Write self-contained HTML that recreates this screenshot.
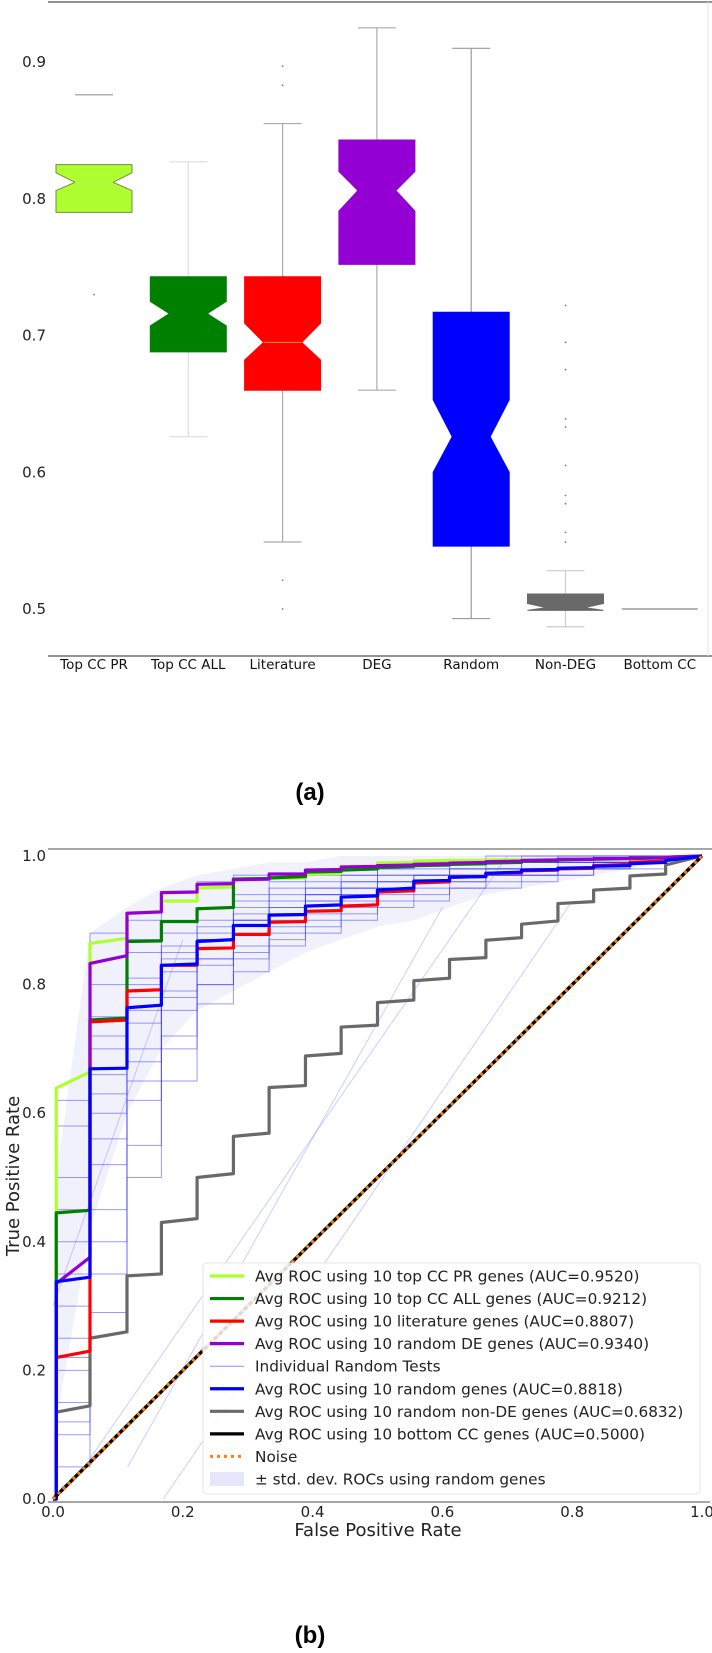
<!DOCTYPE html>
<html><head><meta charset="utf-8">
<style>
html,body{margin:0;padding:0;background:#fff;}
svg{display:block;font-family:"DejaVu Sans","Liberation Sans",sans-serif;}
</style></head>
<body>
<svg id="fig" width="712" height="1653" viewBox="0 0 712 1653" xmlns="http://www.w3.org/2000/svg">
  <g id="boxchart"></g>
  <text x="310" y="800" text-anchor="middle" font-family="Liberation Sans, sans-serif" font-weight="bold" font-size="24">(a)</text>
  <g id="roc"></g>
  <text x="310" y="1643" text-anchor="middle" font-family="Liberation Sans, sans-serif" font-weight="bold" font-size="24">(b)</text>
</svg>
<script>
// ---------- Box plot data ----------
const boxCategories = ["Top CC PR","Top CC ALL","Literature","DEG","Random","Non-DEG","Bottom CC"];
const boxQ1 = [0.790,0.688,0.660,0.752,0.546,0.499,0.500];
const boxQ3 = [0.825,0.743,0.743,0.843,0.717,0.511,0.500];
const boxMedian = [0.812,0.716,0.695,0.806,0.626,0.501,0.500];
const boxNotchLo = [0.806,0.707,0.682,0.791,0.600,0.499,0.500];
const boxNotchHi = [0.819,0.725,0.709,0.820,0.653,0.504,0.500];
const boxWhiskerLo = [0.790,0.626,0.549,0.660,0.493,0.487,0.500];
const boxWhiskerHi = [0.876,0.827,0.855,0.925,0.910,0.528,0.500];
const boxFliers = [[0.73],[],[0.897,0.883,0.521,0.5],[],[],[0.722,0.695,0.675,0.639,0.633,0.605,0.583,0.577,0.556,0.549],[]];
const boxTicks = [0.5,0.6,0.7,0.8,0.9];
const boxColors = ["#adff2f","#008000","#ff0000","#9400d3","#0000ff","#696969","#888888"];
const whiskerColors = ["#ffffff","#dddddd","#aaaaaa","#aaaaaa","#999999","#cccccc","#888888"];

// ---------- ROC data ----------
const gridFpr = [0.005,0.057,0.114,0.167,0.222,0.278,0.333,0.389,0.444,0.5,0.556,0.611,0.667,0.722,0.778,0.833,0.889,0.944];
const prBefore = [0,0.664,0.872,0.914,0.93,0.952,0.965,0.966,0.973,0.981,0.99,0.993,0.993,0.994,0.994,0.995,0.996,0.997];
const prAfter  = [0.639,0.864,0.911,0.93,0.95,0.964,0.965,0.972,0.98,0.989,0.992,0.993,0.994,0.994,0.995,0.996,0.997,0.998];
const allBefore = [0,0.449,0.748,0.868,0.898,0.92,0.965,0.968,0.976,0.98,0.984,0.986,0.988,0.99,0.993,0.995,0.996,0.997];
const allAfter  = [0.445,0.745,0.867,0.898,0.918,0.964,0.966,0.975,0.978,0.982,0.985,0.987,0.989,0.992,0.994,0.995,0.996,0.998];
const litBefore = [0,0.23,0.745,0.792,0.83,0.857,0.878,0.898,0.915,0.924,0.946,0.96,0.968,0.974,0.978,0.981,0.987,0.992];
const litAfter  = [0.22,0.742,0.79,0.83,0.856,0.878,0.897,0.914,0.922,0.944,0.958,0.967,0.973,0.977,0.98,0.985,0.99,0.996];
const deBefore = [0,0.376,0.845,0.913,0.944,0.957,0.964,0.972,0.979,0.984,0.986,0.988,0.99,0.992,0.994,0.995,0.996,0.997];
const deAfter  = [0.335,0.833,0.911,0.943,0.956,0.963,0.972,0.978,0.983,0.985,0.987,0.989,0.991,0.993,0.995,0.996,0.997,0.998];
const rndBefore = [0,0.345,0.67,0.768,0.832,0.87,0.892,0.909,0.924,0.938,0.95,0.962,0.968,0.975,0.979,0.982,0.985,0.99];
const rndAfter  = [0.338,0.669,0.764,0.83,0.867,0.892,0.908,0.922,0.936,0.947,0.961,0.967,0.973,0.978,0.981,0.984,0.988,0.993];
const nonBefore = [0,0.145,0.26,0.35,0.436,0.506,0.569,0.643,0.693,0.737,0.776,0.81,0.842,0.873,0.899,0.929,0.95,0.972];
const nonAfter  = [0.135,0.25,0.347,0.43,0.5,0.564,0.64,0.689,0.734,0.772,0.806,0.839,0.869,0.894,0.926,0.947,0.969,0.986];
const bandUpper = [0.5,0.88,0.92,0.95,0.97,0.98,0.99,0.99,1,1,1,1,1,1,1,1,1,1];
const bandLower = [0.12,0.42,0.6,0.7,0.76,0.79,0.82,0.85,0.87,0.89,0.9,0.92,0.94,0.95,0.96,0.97,0.98,0.99];
const test1 = [0.62,0.88,0.9,0.93,0.96,0.97,0.97,0.98,0.98,0.99,0.99,0.99,1,1,1,1,1,1];
const test2 = [0.45,0.75,0.85,0.88,0.9,0.93,0.95,0.96,0.97,0.98,0.98,0.99,0.99,0.99,1,1,1,1];
const test3 = [0.3,0.56,0.7,0.82,0.87,0.89,0.92,0.94,0.95,0.96,0.97,0.97,0.98,0.98,0.99,0.99,1,1];
const test4 = [0.2,0.45,0.62,0.76,0.84,0.88,0.9,0.93,0.93,0.95,0.96,0.97,0.98,0.98,0.98,0.99,0.99,1];
const test5 = [0.05,0.29,0.5,0.7,0.8,0.85,0.88,0.9,0.92,0.94,0.95,0.96,0.97,0.97,0.98,0.98,0.99,1];
const test6 = [0.1,0.7,0.8,0.86,0.89,0.91,0.93,0.94,0.96,0.96,0.97,0.98,0.98,0.99,0.99,0.99,1,1];
const test7 = [0.35,0.66,0.74,0.78,0.84,0.9,0.92,0.93,0.95,0.96,0.96,0.97,0.97,0.98,0.98,0.99,0.99,1];
const test8 = [0.58,0.72,0.81,0.85,0.87,0.9,0.91,0.95,0.95,0.97,0.97,0.98,0.98,0.99,0.99,0.99,1,1];
const test9 = [0.12,0.4,0.55,0.65,0.77,0.82,0.86,0.88,0.9,0.92,0.93,0.95,0.95,0.96,0.97,0.98,0.98,1];
const test10 = [0.25,0.63,0.76,0.83,0.87,0.9,0.91,0.94,0.94,0.95,0.96,0.97,0.97,0.97,0.98,0.99,1,1];
const test11 = [0.5,0.8,0.87,0.9,0.92,0.94,0.96,0.97,0.97,0.98,0.99,0.99,0.99,1,1,1,1,1];
const test12 = [0.15,0.52,0.68,0.79,0.83,0.86,0.89,0.91,0.94,0.95,0.96,0.96,0.97,0.98,0.98,0.99,0.99,1];
const test13 = [0.4,0.6,0.78,0.84,0.88,0.92,0.94,0.95,0.96,0.97,0.97,0.98,0.99,0.99,0.99,1,1,1];
const test14 = [0.22,0.35,0.65,0.72,0.8,0.84,0.87,0.89,0.91,0.93,0.94,0.95,0.96,0.97,0.97,0.98,0.99,1];
const rocTicks = [0,0.2,0.4,0.6,0.8,1.0];
const legendLabels = ["Avg ROC using 10 top CC PR genes (AUC=0.9520)","Avg ROC using 10 top CC ALL genes (AUC=0.9212)","Avg ROC using 10 literature genes (AUC=0.8807)","Avg ROC using 10 random DE genes (AUC=0.9340)","Individual Random Tests","Avg ROC using 10 random genes (AUC=0.8818)","Avg ROC using 10 random non-DE genes (AUC=0.6832)","Avg ROC using 10 bottom CC genes (AUC=0.5000)","Noise","± std. dev. ROCs using random genes"];

const NS = "http://www.w3.org/2000/svg";
function mk(parent, tag, attrs, text){
  const e = document.createElementNS(NS, tag);
  for (const k in attrs) e.setAttribute(k, attrs[k]);
  if (text !== undefined) e.textContent = text;
  parent.appendChild(e);
  return e;
}

// ===== Box chart =====
const bg = document.getElementById("boxchart");
const yB = v => 609 - (v - 0.5) * 1367.5;
const cxB = i => 94 + i * 94.3;
const BW = 76;
let e;
e = mk(bg, "line", {x1:48,y1:2,x2:712,y2:2,stroke:"#555","stroke-width":1.2});


e = mk(bg, "line", {x1:48,y1:656,x2:712,y2:656,stroke:"#555","stroke-width":1.2});


e = mk(bg, "line", {x1:708,y1:2,x2:708,y2:656,stroke:"#e4e4e4","stroke-width":1});


boxTicks.forEach(t => {
  const y = yB(t);
  const tl = mk(bg, "text", {x:46,y:y+5,"text-anchor":"end","font-size":15,fill:"#222"}, t.toFixed(1));
  
  
});
boxCategories.forEach((c, i) => {
  const cx = cxB(i);
  const g = mk(bg, "g", {});
  
  
  const h = BW/2, q = BW/4;
  const col = boxColors[i], wc = whiskerColors[i];
  const w1 = mk(g, "line", {x1:cx,y1:yB(boxQ3[i]),x2:cx,y2:yB(boxWhiskerHi[i]),stroke:wc,"stroke-width":1.2});
  
  
  const w2 = mk(g, "line", {x1:cx,y1:yB(boxQ1[i]),x2:cx,y2:yB(boxWhiskerLo[i]),stroke:wc,"stroke-width":1.2});
  
  
  const capc = i === 0 ? "#999" : wc;
  if (i !== 6) {
    const c1 = mk(g, "line", {x1:cx-q,y1:yB(boxWhiskerHi[i]),x2:cx+q,y2:yB(boxWhiskerHi[i]),stroke:capc,"stroke-width":1.2});
    
    
    if (boxWhiskerLo[i] < boxQ1[i]) {
      const c2 = mk(g, "line", {x1:cx-q,y1:yB(boxWhiskerLo[i]),x2:cx+q,y2:yB(boxWhiskerLo[i]),stroke:wc,"stroke-width":1.2});
      
      
    }
  }
  if (i === 6) {
    const ln = mk(g, "line", {x1:cx-h,y1:yB(boxMedian[i]),x2:cx+h,y2:yB(boxMedian[i]),stroke:"#888","stroke-width":1.3});
    
    
  } else {
    const pts = [
      [cx-h,yB(boxQ1[i])],[cx+h,yB(boxQ1[i])],[cx+h,yB(boxNotchLo[i])],[cx+q,yB(boxMedian[i])],
      [cx+h,yB(boxNotchHi[i])],[cx+h,yB(boxQ3[i])],[cx-h,yB(boxQ3[i])],[cx-h,yB(boxNotchHi[i])],
      [cx-q,yB(boxMedian[i])],[cx-h,yB(boxNotchLo[i])]
    ];
    const pb = mk(g, "polygon", {points:pts.map(p=>p.join(",")).join(" "),fill:col,stroke:i===0?"#7a8a3a":col,"stroke-width":1});
    
    
    const md = mk(g, "line", {x1:cx-q,y1:yB(boxMedian[i]),x2:cx+q,y2:yB(boxMedian[i]),stroke:i===2?"#e8a000":(i===0?"#c8e860":col),"stroke-width":1});
    
    
  }
  boxFliers[i].forEach(v => {
    const d = mk(g, "circle", {cx:cx,cy:yB(v),r:0.9,fill:"#777"});
    
    
  });
  const lb = mk(bg, "text", {x:cx,y:669,"text-anchor":"middle","font-size":13.5,fill:"#111"}, c);
  
  
});

// ===== ROC chart =====
const rg = document.getElementById("roc");
const X = f => 53 + f * 649;
const Y = t => 1499 - t * 643;
e = mk(rg, "line", {x1:48,y1:849,x2:712,y2:849,stroke:"#888","stroke-width":1.5});


e = mk(rg, "line", {x1:48,y1:1502,x2:710,y2:1502,stroke:"#888","stroke-width":1.5});



{
  let d = "M" + X(0) + "," + Y(0);
  gridFpr.forEach((f,k) => { d += " L" + X(f) + "," + Y(bandUpper[k]); });
  d += " L" + X(1) + "," + Y(1);
  for (let k = gridFpr.length-1; k >= 0; k--) d += " L" + X(gridFpr[k]) + "," + Y(bandLower[k]);
  d += " Z";
  const b = mk(rg, "path", {d:d, fill:"#e6e6fa", "fill-opacity":0.55});
  
  
}
[test1,test2,test3,test4,test5,test6,test7,test8,test9,test10,test11,test12,test13,test14].forEach((arr, n) => {
  let d = "M" + X(0) + "," + Y(0);
  gridFpr.forEach((f,k) => {
    d += " L" + X(f) + "," + Y(k===0?0:arr[k-1]) + " L" + X(f) + "," + Y(arr[k]);
  });
  d += " L" + X(1) + "," + Y(arr[arr.length-1]) + " L" + X(1) + "," + Y(1);
  const p = mk(rg, "path", {d:d, fill:"none", stroke:"#3535ff", "stroke-opacity":0.5, "stroke-width":1});
  
  
});
[[0.055,0.06,0.7,1.0],[0.115,0.05,0.6,0.92],[0.17,0.0,0.8,0.93],[0.0,0.3,0.2,0.87]].forEach(s => {
  const l = mk(rg, "line", {x1:X(s[0]),y1:Y(s[1]),x2:X(s[2]),y2:Y(s[3]),stroke:"#7070ff","stroke-opacity":0.35,"stroke-width":1});
  
  
});

function curve(before, after, color, name){
  let d = "M" + X(0) + "," + Y(0);
  gridFpr.forEach((f,k) => {
    d += " L" + X(f) + "," + Y(before[k]) + " L" + X(f) + "," + Y(after[k]);
  });
  d += " L" + X(1) + "," + Y(1);
  const p = mk(rg, "path", {d:d, fill:"none", stroke:color, "stroke-width":3.2, "stroke-linejoin":"round"});
  
  
}
curve(nonBefore, nonAfter, "#696969", "roc-random-non-de");
curve(prBefore, prAfter, "#adff2f", "roc-top-cc-pr");
curve(allBefore, allAfter, "#007f00", "roc-top-cc-all");
curve(litBefore, litAfter, "#ff0000", "roc-literature");
curve(deBefore, deAfter, "#9400d3", "roc-random-de");
curve(rndBefore, rndAfter, "#0000ff", "roc-random");
e = mk(rg, "line", {x1:X(0),y1:Y(0),x2:X(1),y2:Y(1),stroke:"#000","stroke-width":3.4});


e = mk(rg, "line", {x1:X(0),y1:Y(0),x2:X(1),y2:Y(1),stroke:"#ff7f0e","stroke-width":3,"stroke-dasharray":"3,4"});



rocTicks.forEach(t => {
  const yl = mk(rg, "text", {x:46,y:Y(t)+5,"text-anchor":"end","font-size":15,fill:"#222"}, t.toFixed(1));
  
  
  const xl = mk(rg, "text", {x:X(t),y:1517,"text-anchor":"middle","font-size":15,fill:"#222"}, t.toFixed(1));
  
  
});
e = mk(rg, "text", {x:378,y:1536,"text-anchor":"middle","font-size":18,fill:"#222"}, "False Positive Rate");


e = mk(rg, "text", {x:0,y:0,transform:"translate(19,1176) rotate(-90)","text-anchor":"middle","font-size":18,fill:"#222"}, "True Positive Rate");



{
  const lg = mk(rg, "g", {});
  
  
  mk(lg, "rect", {x:203,y:1263,width:497,height:231,rx:4,fill:"#fff","fill-opacity":0.85,stroke:"#e6e6e6"});
  const cols = ["#adff2f","#007f00","#ff0000","#9400d3","#3535ff","#0000ff","#696969","#000000","#ff7f0e",null];
  legendLabels.forEach((lab, i) => {
    const y = 1276 + i * 22.55;
    const en = mk(lg, "g", {});
    
    
    if (i === 9) {
      mk(en, "rect", {x:210,y:y-7,width:34,height:14,fill:"#e6e6fa"});
    } else if (i === 8) {
      mk(en, "line", {x1:210,y1:y,x2:244,y2:y,stroke:cols[i],"stroke-width":3,"stroke-dasharray":"3,4"});
    } else {
      mk(en, "line", {x1:210,y1:y,x2:244,y2:y,stroke:cols[i],"stroke-width":i===4?1:3.2,"stroke-opacity":i===4?0.55:1});
    }
    mk(en, "text", {x:255,y:y+5.5,"font-size":15.3,fill:"#222"}, lab);
  });
}
</script>
</body></html>
